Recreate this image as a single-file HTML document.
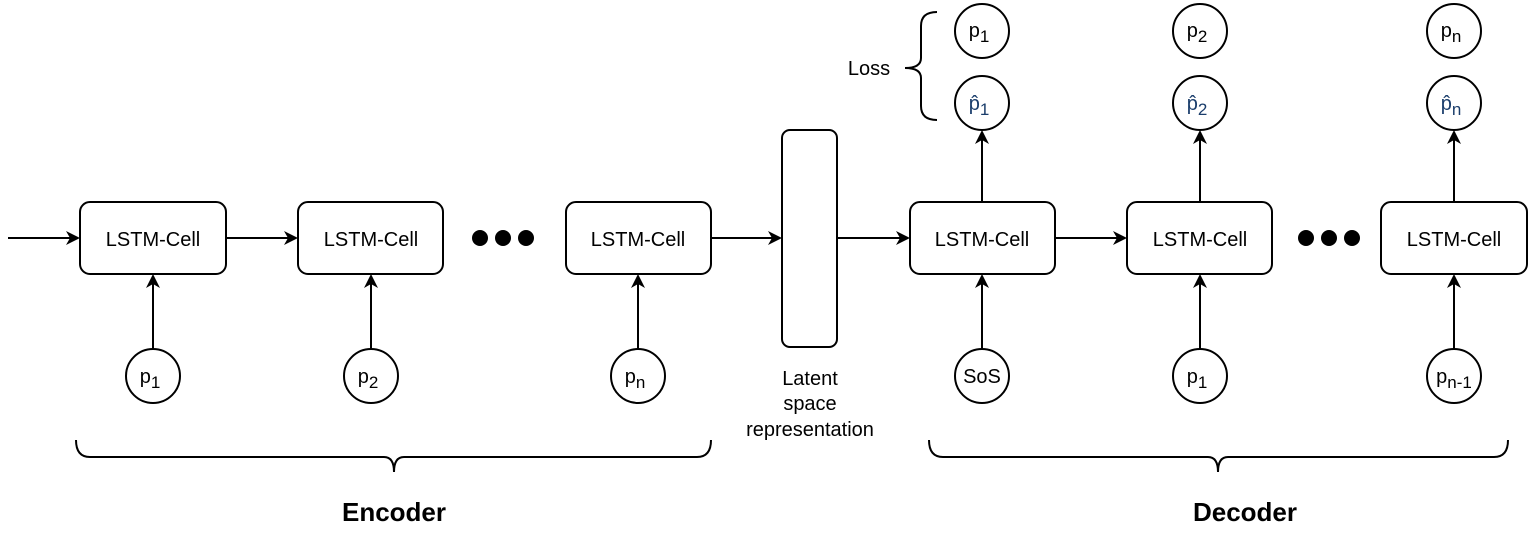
<!DOCTYPE html>
<html><head><meta charset="utf-8"><style>
html,body{margin:0;padding:0;background:#fff;}
svg{display:block;}
text{font-family:"Liberation Sans",Arial,sans-serif;fill:#000;}
</style></head><body>
<svg width="1533" height="546" viewBox="0 0 1533 546" xmlns="http://www.w3.org/2000/svg">
<defs>
<path id="ar" d="M0,0 L-14,-7 L-10,0 L-14,7 Z" fill="#000"/>
</defs>
<g stroke="#000" stroke-width="2" fill="none">
<line x1="8" y1="238" x2="72" y2="238"/>
<line x1="226" y1="238" x2="290" y2="238"/>
<line x1="711" y1="238" x2="774" y2="238"/>
<line x1="837" y1="238" x2="902" y2="238"/>
<line x1="1055" y1="238" x2="1119" y2="238"/>
<line x1="153" y1="349" x2="153" y2="282"/>
<line x1="371" y1="349" x2="371" y2="282"/>
<line x1="638" y1="349" x2="638" y2="282"/>
<line x1="982" y1="349" x2="982" y2="282"/>
<line x1="1200" y1="349" x2="1200" y2="282"/>
<line x1="1454" y1="349" x2="1454" y2="282"/>
<line x1="982" y1="202" x2="982" y2="138"/>
<line x1="1200" y1="202" x2="1200" y2="138"/>
<line x1="1454" y1="202" x2="1454" y2="138"/>
<rect x="80" y="202" width="146" height="72" rx="10"/>
<rect x="298" y="202" width="145" height="72" rx="10"/>
<rect x="566" y="202" width="145" height="72" rx="10"/>
<rect x="782" y="130" width="55" height="217" rx="8"/>
<rect x="910" y="202" width="145" height="72" rx="10"/>
<rect x="1127" y="202" width="145" height="72" rx="10"/>
<rect x="1381" y="202" width="146" height="72" rx="10"/>
<circle cx="153" cy="376" r="27"/>
<circle cx="371" cy="376" r="27"/>
<circle cx="638" cy="376" r="27"/>
<circle cx="982" cy="376" r="27"/>
<circle cx="1200" cy="376" r="27"/>
<circle cx="1454" cy="376" r="27"/>
<circle cx="982" cy="31" r="27"/>
<circle cx="1200" cy="31" r="27"/>
<circle cx="1454" cy="31" r="27"/>
<circle cx="982" cy="103" r="27"/>
<circle cx="1200" cy="103" r="27"/>
<circle cx="1454" cy="103" r="27"/>
<path d="M76,440 Q76,457 90,457 L384,457 Q394,457 394,472 Q394,457 404,457 L697,457 Q711,457 711,440"/>
<path d="M929,440 Q929,457 943,457 L1208,457 Q1218,457 1218,472 Q1218,457 1228,457 L1494,457 Q1508,457 1508,440"/>
<path d="M937,12 Q921,12 921,26 L921,58 Q921,68 905,68 Q921,68 921,78 L921,106 Q921,120 937,120"/>
</g>
<g>
<use href="#ar" transform="translate(80,238)"/>
<use href="#ar" transform="translate(298,238)"/>
<use href="#ar" transform="translate(782,238)"/>
<use href="#ar" transform="translate(910,238)"/>
<use href="#ar" transform="translate(1127,238)"/>
<use href="#ar" transform="translate(153,274) rotate(-90)"/>
<use href="#ar" transform="translate(371,274) rotate(-90)"/>
<use href="#ar" transform="translate(638,274) rotate(-90)"/>
<use href="#ar" transform="translate(982,274) rotate(-90)"/>
<use href="#ar" transform="translate(1200,274) rotate(-90)"/>
<use href="#ar" transform="translate(1454,274) rotate(-90)"/>
<use href="#ar" transform="translate(982,130) rotate(-90)"/>
<use href="#ar" transform="translate(1200,130) rotate(-90)"/>
<use href="#ar" transform="translate(1454,130) rotate(-90)"/>
</g>
<g fill="#000">
<circle cx="480" cy="238" r="8"/><circle cx="503" cy="238" r="8"/><circle cx="526" cy="238" r="8"/>
<circle cx="1306" cy="238" r="8"/><circle cx="1329" cy="238" r="8"/><circle cx="1352" cy="238" r="8"/>
</g>
<g font-size="20" text-anchor="middle">
<text x="153" y="246">LSTM-Cell</text>
<text x="371" y="246">LSTM-Cell</text>
<text x="638" y="246">LSTM-Cell</text>
<text x="982" y="246">LSTM-Cell</text>
<text x="1200" y="246">LSTM-Cell</text>
<text x="1454" y="246">LSTM-Cell</text>
<text x="810" y="385">Latent</text>
<text x="810" y="410">space</text>
<text x="810" y="436">representation</text>
<text x="869" y="75">Loss</text>
<text x="982" y="383">SoS</text>
<text x="150" y="383">p<tspan font-size="17" dy="5">1</tspan></text>
<text x="368" y="383">p<tspan font-size="17" dy="5">2</tspan></text>
<text x="635" y="383">p<tspan font-size="17" dy="5">n</tspan></text>
<text x="1197" y="383">p<tspan font-size="17" dy="5">1</tspan></text>
<text x="1454" y="383">p<tspan font-size="17" dy="5">n-1</tspan></text>
<text x="979" y="37">p<tspan font-size="17" dy="5">1</tspan></text>
<text x="1197" y="37">p<tspan font-size="17" dy="5">2</tspan></text>
<text x="1451" y="37">p<tspan font-size="17" dy="5">n</tspan></text>
<text x="979" y="110" style="fill:#1a3d6b">p̂<tspan font-size="17" dy="5" style="fill:#1a3d6b">1</tspan></text>
<text x="1197" y="110" style="fill:#1a3d6b">p̂<tspan font-size="17" dy="5" style="fill:#1a3d6b">2</tspan></text>
<text x="1451" y="110" style="fill:#1a3d6b">p̂<tspan font-size="17" dy="5" style="fill:#1a3d6b">n</tspan></text>
</g>
<g font-size="26" font-weight="bold" text-anchor="middle">
<text x="394" y="521">Encoder</text>
<text x="1245" y="521">Decoder</text>
</g>
</svg>
</body></html>
